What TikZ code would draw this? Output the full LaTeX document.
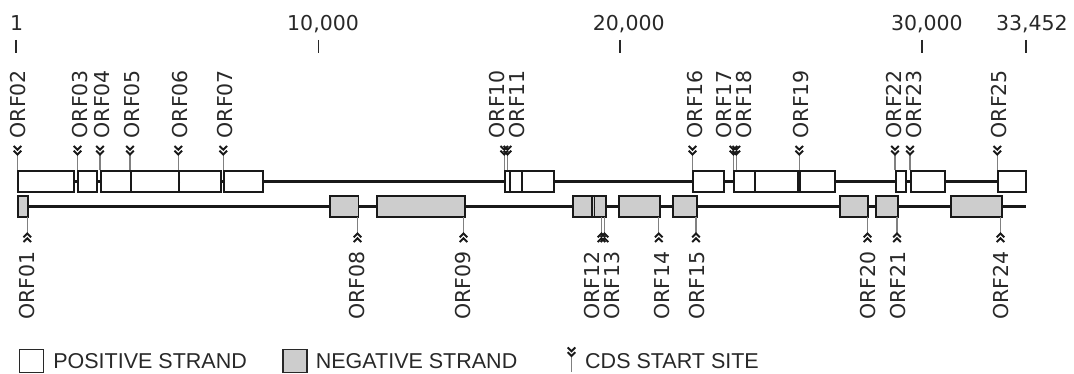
\documentclass[tikz,border=0pt]{standalone}
\usepackage{fontspec}
\setmainfont{DejaVu Sans}
\newfontfamily\legfont{Liberation Sans}
\usetikzlibrary{positioning}
\definecolor{ink}{RGB}{25,25,25}
\definecolor{slate}{RGB}{40,40,40}
\definecolor{minus}{RGB}{205,205,205}
\tikzset{startsite/.pic={\draw[draw=gray,line width=1.1pt] (0,0)--(0,-16); \draw[draw=ink,line width=1.9pt] (-3.8,-24.5)--(0,-20.8)--(3.8,-24.5) (-3.8,-19.8)--(0,-16)--(3.8,-19.8);}}

\begin{document}
\begin{tikzpicture}[x=1pt,y=-1pt,posbox/.style={draw=ink,line width=1.8pt,fill=white,minimum height=21.5pt,inner sep=0pt,anchor=west},negbox/.style={posbox,fill=minus},strand/.style={draw=ink,line width=2.8pt},orf/.style={font=\fontsize{20.5}{24}\selectfont,text=slate,inner sep=0pt,rotate=90},scalelab/.style={font=\fontsize{20.5}{24}\selectfont,text=slate,inner sep=0pt,anchor=base west},legbox/.style={draw=slate,line width=1.2pt,minimum width=24pt,minimum height=23pt,inner sep=0pt},legtext/.style={font=\legfont\fontsize{21.5}{24}\selectfont,text=slate,inner sep=0pt}]
\useasboundingbox (0,0) rectangle (1074,374);
% genome scale
\foreach \t/\l/\s [count=\i] in {16/10/1,318.3/287/{10,000},620/592.7/{20,000},921.7/890.8/{30,000},1025.7/995.8/{33,452}}{\node[scalelab] (lab\i) at (\l,30.5) {\s}; \draw[draw=slate,line width=1.6pt] (\t,40)--(\t,53);}
% positive strand
\foreach \a/\b [count=\i] in {17.3/73.3,77.3/95.7,100/130,130/178.3,178.3/220,223.3/261.7,504.3/509.3,509.3/521,521/553.3,692.3/723.3,733.3/754,754/797.3,799.3/834.3,895/905.3,910/944.3,997.3/1025.3}{\pgfmathsetmacro\w{\b-\a}\node[posbox,minimum width=\w pt] (pos\i) at (\a,181.5) {};}
\foreach \i [evaluate=\i as \j using int(\i+1)] in {1,...,15}{\draw[strand] (pos\i.east)--(pos\j.west);}
% negative strand
\foreach \a/\b [count=\i] in {17.3/27.3,329/357.5,375.7/464,571.7/591,591/593.5,593.5/605,618.3/659.3,672.3/696,839/867.3,875/896.7,950/1000.7}{\pgfmathsetmacro\w{\b-\a}\node[negbox,minimum width=\w pt] (neg\i) at (\a,206.5) {};}
\coordinate (negend) at (1025.5,206.5);
\foreach \i [evaluate=\i as \j using int(\i+1)] in {1,...,10}{\draw[strand] (neg\i.east)--(neg\j.west);}
\draw[strand] (neg11.east)--(negend);
% start sites and ORF names
\foreach \n/\x/\l in {02/17.5/18,03/77.5/80,04/100/102.5,05/130/132.5,06/178.3/180.5,07/223.3/225.3,10/504.3/496.7,11/507.5/516.7,16/692.5/695,17/733.5/724,18/736.3/744,19/799.3/800.7,22/895/894,23/910/914,25/997.3/999}{\pic at (\x,170.5) {startsite}; \node[orf,anchor=west] (orf\n) at (\l,138.5) {ORF\n};}
\foreach \n/\x/\l in {01/27.3/27.3,08/357.5/357.5,09/463.5/463.3,12/601.5/592.3,13/604.5/611.7,14/658.8/661.7,15/696/696.7,20/867.5/868.3,21/897/898.3,24/1000.5/1000.7}{\pic[yscale=-1] at (\x,217.5) {startsite}; \node[orf,anchor=east] (orf\n) at (\l,251.5) {ORF\n};}
% legend
\node[legbox,fill=white] (legpos) at (31.5,361) {};
\node[legtext,right=9pt of legpos] (legpostext) {POSITIVE STRAND};
\node[legbox,fill=minus] (legneg) at (295,361) {};
\node[legtext,right=8pt of legneg] (legnegtext) {NEGATIVE STRAND};
\coordinate (legsite) at (571.5,372);
\pic at (legsite) {startsite};
\node[legtext,anchor=west] (legsitetext) at (585,361.5) {CDS START SITE};
\end{tikzpicture}
\end{document}
